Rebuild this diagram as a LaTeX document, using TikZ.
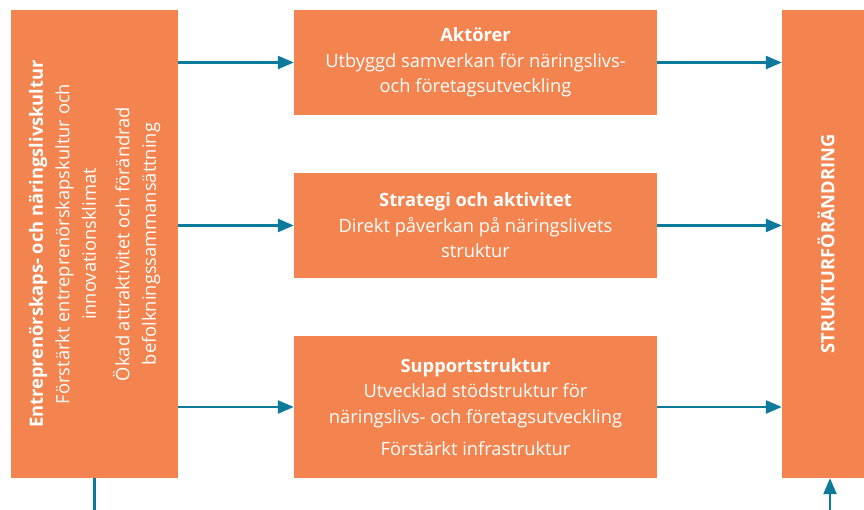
\documentclass[tikz,border=0pt]{standalone}
\usepackage{fontspec}
\setmainfont{Open Sans}
\usetikzlibrary{positioning,arrows.meta}
\definecolor{boxorange}{HTML}{F3844F}
\definecolor{arrowteal}{HTML}{0B7A9B}

\begin{document}
\begin{tikzpicture}[x=1pt, y=-1pt,
	box/.style={rectangle, fill=boxorange, text=white, align=center, inner sep=0pt, minimum width=363pt, font=\fontsize{18.3}{25.5}\selectfont},
	col/.style={rectangle, fill=boxorange, inner sep=0pt, minimum height=468pt},
	vtext/.style={rotate=90, text=white, align=center, font=\fontsize{18.3}{26.5}\selectfont},
	link/.style={draw=arrowteal, line width=2.4pt, -{Triangle[length=16pt,width=13pt]}}
]
\useasboundingbox (0,0) rectangle (864,510);
% columns
\node[col, minimum width=167pt] (ent) at (94.5,244) {};
\node[vtext] (enttxt) at (ent.center) {\textbf{Entreprenörskaps- och näringslivskultur}\\
	Förstärkt entreprenörskapskultur och\\ innovationsklimat\\[7pt]
	Ökad attraktivitet och förändrad\\ befolkningssammansättning};
\node[col, minimum width=96pt] (struk) at (830,244) {};
\node[vtext, font=\fontsize{18.3}{20}\selectfont\bfseries] (struktxt) at ([xshift=-4pt]struk.center) {STRUKTURFÖRÄNDRING};
% middle boxes
\node[box, minimum height=105pt] (akt) at (475.5,62.5) {\textbf{Aktörer}\\
	Utbyggd samverkan för näringslivs-\\ och företagsutveckling};
\node[box, minimum height=105pt] (strat) at (475.5,225.5) {\textbf{Strategi och aktivitet}\\
	Direkt påverkan på näringslivets\\ struktur};
\node[box, minimum height=142pt] (supp) at (475.5,407) {\textbf{Supportstruktur}\\
	Utvecklad stödstruktur för\\ näringslivs- och företagsutveckling\\[7pt]
	Förstärkt infrastruktur};
% arrows
\foreach \n in {akt, strat, supp} {
	\draw[link] (\n.west -| ent.east) -- (\n.west);
	\draw[link] (\n.east) -- (\n.east -| struk.west);
}
\coordinate (inbot) at (94.5,510);
\coordinate (outbot) at (830,510);
\draw[arrowteal, line width=2.4pt] (ent.south) -- (inbot);
\draw[link] (outbot) -- (struk.south);
\end{tikzpicture}
\end{document}
